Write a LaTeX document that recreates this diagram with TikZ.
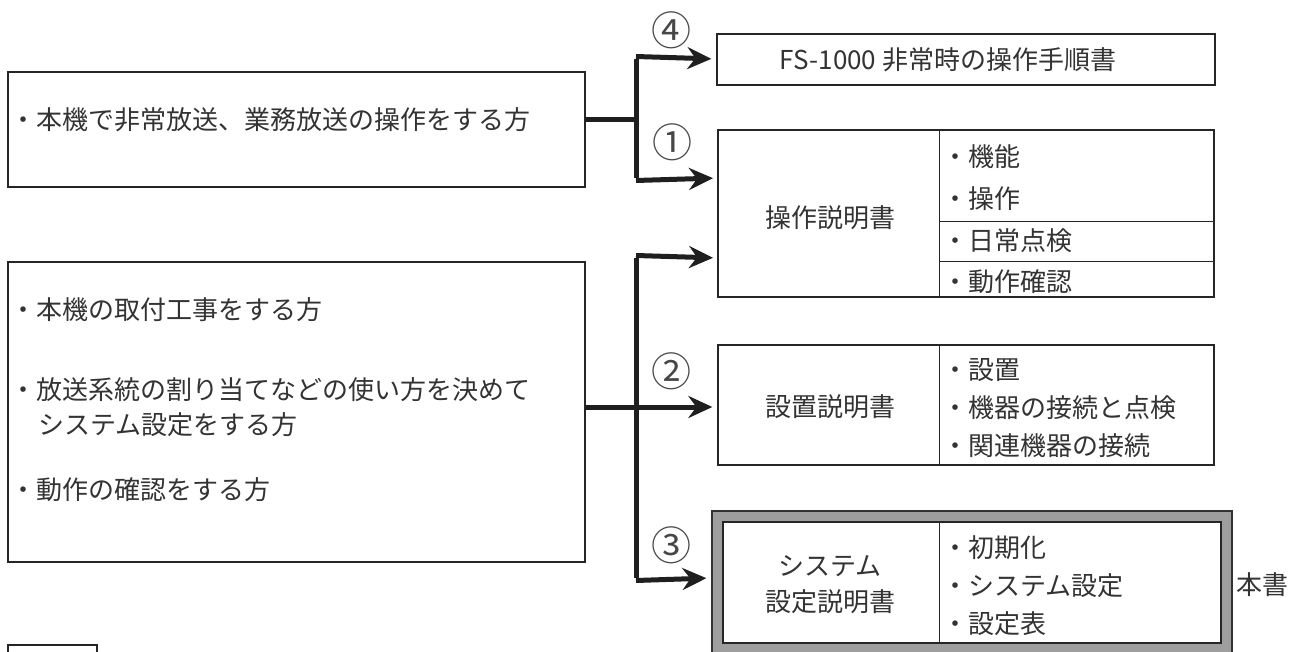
\documentclass[tikz,border=0pt]{standalone}
\usepackage{fontspec}
\setmainfont{Noto Sans CJK JP}
\usetikzlibrary{arrows.meta}
\tikzset{
  box/.style={draw=black!85, line width=1.3pt, inner sep=0pt},
  conn/.style={draw=black!88, line width=5pt},
  arr/.style={conn, -{Stealth[length=24pt,width=22pt,inset=8pt]}, shorten >=5pt},
  txt/.style={inner sep=0pt, font=\fontsize{26}{30}\selectfont, text=black!80},
  lbl/.style={txt, anchor=west},
  num/.style={inner sep=0pt, text=black!72, font=\fontsize{40}{44}\selectfont},
  thin/.style={draw=black!85, line width=1.3pt}
}
\begin{document}
\begin{tikzpicture}[x=1pt,y=-1pt]
\useasboundingbox[fill=white] (0,0) rectangle (1290,652);
\begin{scope}
\clip (0,0) rectangle (1290,652);
% left boxes
\node[box, minimum width=577pt, minimum height=115pt] (boxA) at (296.5,129.5) {};
\node[lbl] (tA) at (10,120) {・本機で非常放送、業務放送の操作をする方};
\node[box, minimum width=577pt, minimum height=300pt] (boxB) at (296.5,412) {};
\node[lbl] (tB1) at (10,310) {・本機の取付工事をする方};
\node[lbl] (tB2) at (10,390) {・放送系統の割り当てなどの使い方を決めて};
\node[lbl] (tB3) at (38,425) {システム設定をする方};
\node[lbl] (tB4) at (10,490) {・動作の確認をする方};
% FS box
\node[box, minimum width=498pt, minimum height=51pt] (fs) at (966,59.5) {};
\node[txt] (tfs) at (948,60) {FS-1000 非常時の操作手順書};
% operation manual
\node[box, minimum width=496pt, minimum height=167pt] (op) at (966,213.5) {};
\draw[thin] (op.north west) ++(222,0) -- ++(0,167);
\draw[thin] (op.north west) ++(222,92) -- ++(274,0);
\draw[thin] (op.north west) ++(222,132) -- ++(274,0);
\node[txt] (top) at (830,218) {操作説明書};
\node[lbl] (o1) at (942,157) {・機能};
\node[lbl] (o2) at (942,199) {・操作};
\node[lbl] (o3) at (942,241) {・日常点検};
\node[lbl] (o4) at (942,282) {・動作確認};
% installation manual
\node[box, minimum width=496pt, minimum height=120pt] (ins) at (966,405) {};
\draw[thin] (ins.north west) ++(222,0) -- ++(0,120);
\node[txt] (tins) at (830,407) {設置説明書};
\node[lbl] (i1) at (942,370) {・設置};
\node[lbl] (i2) at (942,408) {・機器の接続と点検};
\node[lbl] (i3) at (942,446) {・関連機器の接続};
% system setting manual
\node[draw=black!80, line width=1.2pt, fill=black!38, inner sep=0pt, minimum width=520pt, minimum height=154pt] (sysout) at (972,588) {};
\node[box, fill=white, minimum width=498pt, minimum height=121pt] (sys) at (972,582.5) {};
\draw[thin] (sys.north west) ++(217,0) -- ++(0,121);
\node[txt, align=center] (tsys) at (830,585) {システム\\[6pt]設定説明書};
\node[lbl] (s1) at (942,548) {・初期化};
\node[lbl] (s2) at (942,586) {・システム設定};
\node[lbl] (s3) at (942,624) {・設定表};
\node[lbl] (hon) at (1236,585) {本書};
% bottom-left cut box
\node[box, minimum width=89pt, minimum height=30pt] (cut) at (52.5,660) {};
% connectors
\coordinate (jA) at (636,120);
\coordinate (a4) at (636,59);
\coordinate (a1) at (636,178);
\coordinate (a1e) at (718,178);
\coordinate (jB) at (636,407);
\coordinate (bt) at (636,258);
\coordinate (bte) at (718,258);
\coordinate (bb) at (636,578);
\draw[conn] (boxA.east |- jA) -- (jA);
\draw[conn, line cap=butt] (a4) -- (a1);
\draw[arr] ([yshift=2.5pt]a4) -- (fs.west |- a4);
\draw[arr] ([yshift=-2.5pt]a1) -- (a1e);
\draw[conn] (bt) -- (bb);
\draw[arr] (boxB.east |- jB) -- (ins.west |- jB);
\draw[arr] ([yshift=2.5pt]bt) -- (bte);
\draw[arr] ([yshift=-2.5pt]bb) -- (sysout.west |- bb);
% numbers
\node[num] (n4) at (671,30) {④};
\node[num] (n1) at (672,142) {①};
\node[num] (n2) at (671,371) {②};
\node[num] (n3) at (671,545) {③};
\end{scope}
\end{tikzpicture}
\end{document}
